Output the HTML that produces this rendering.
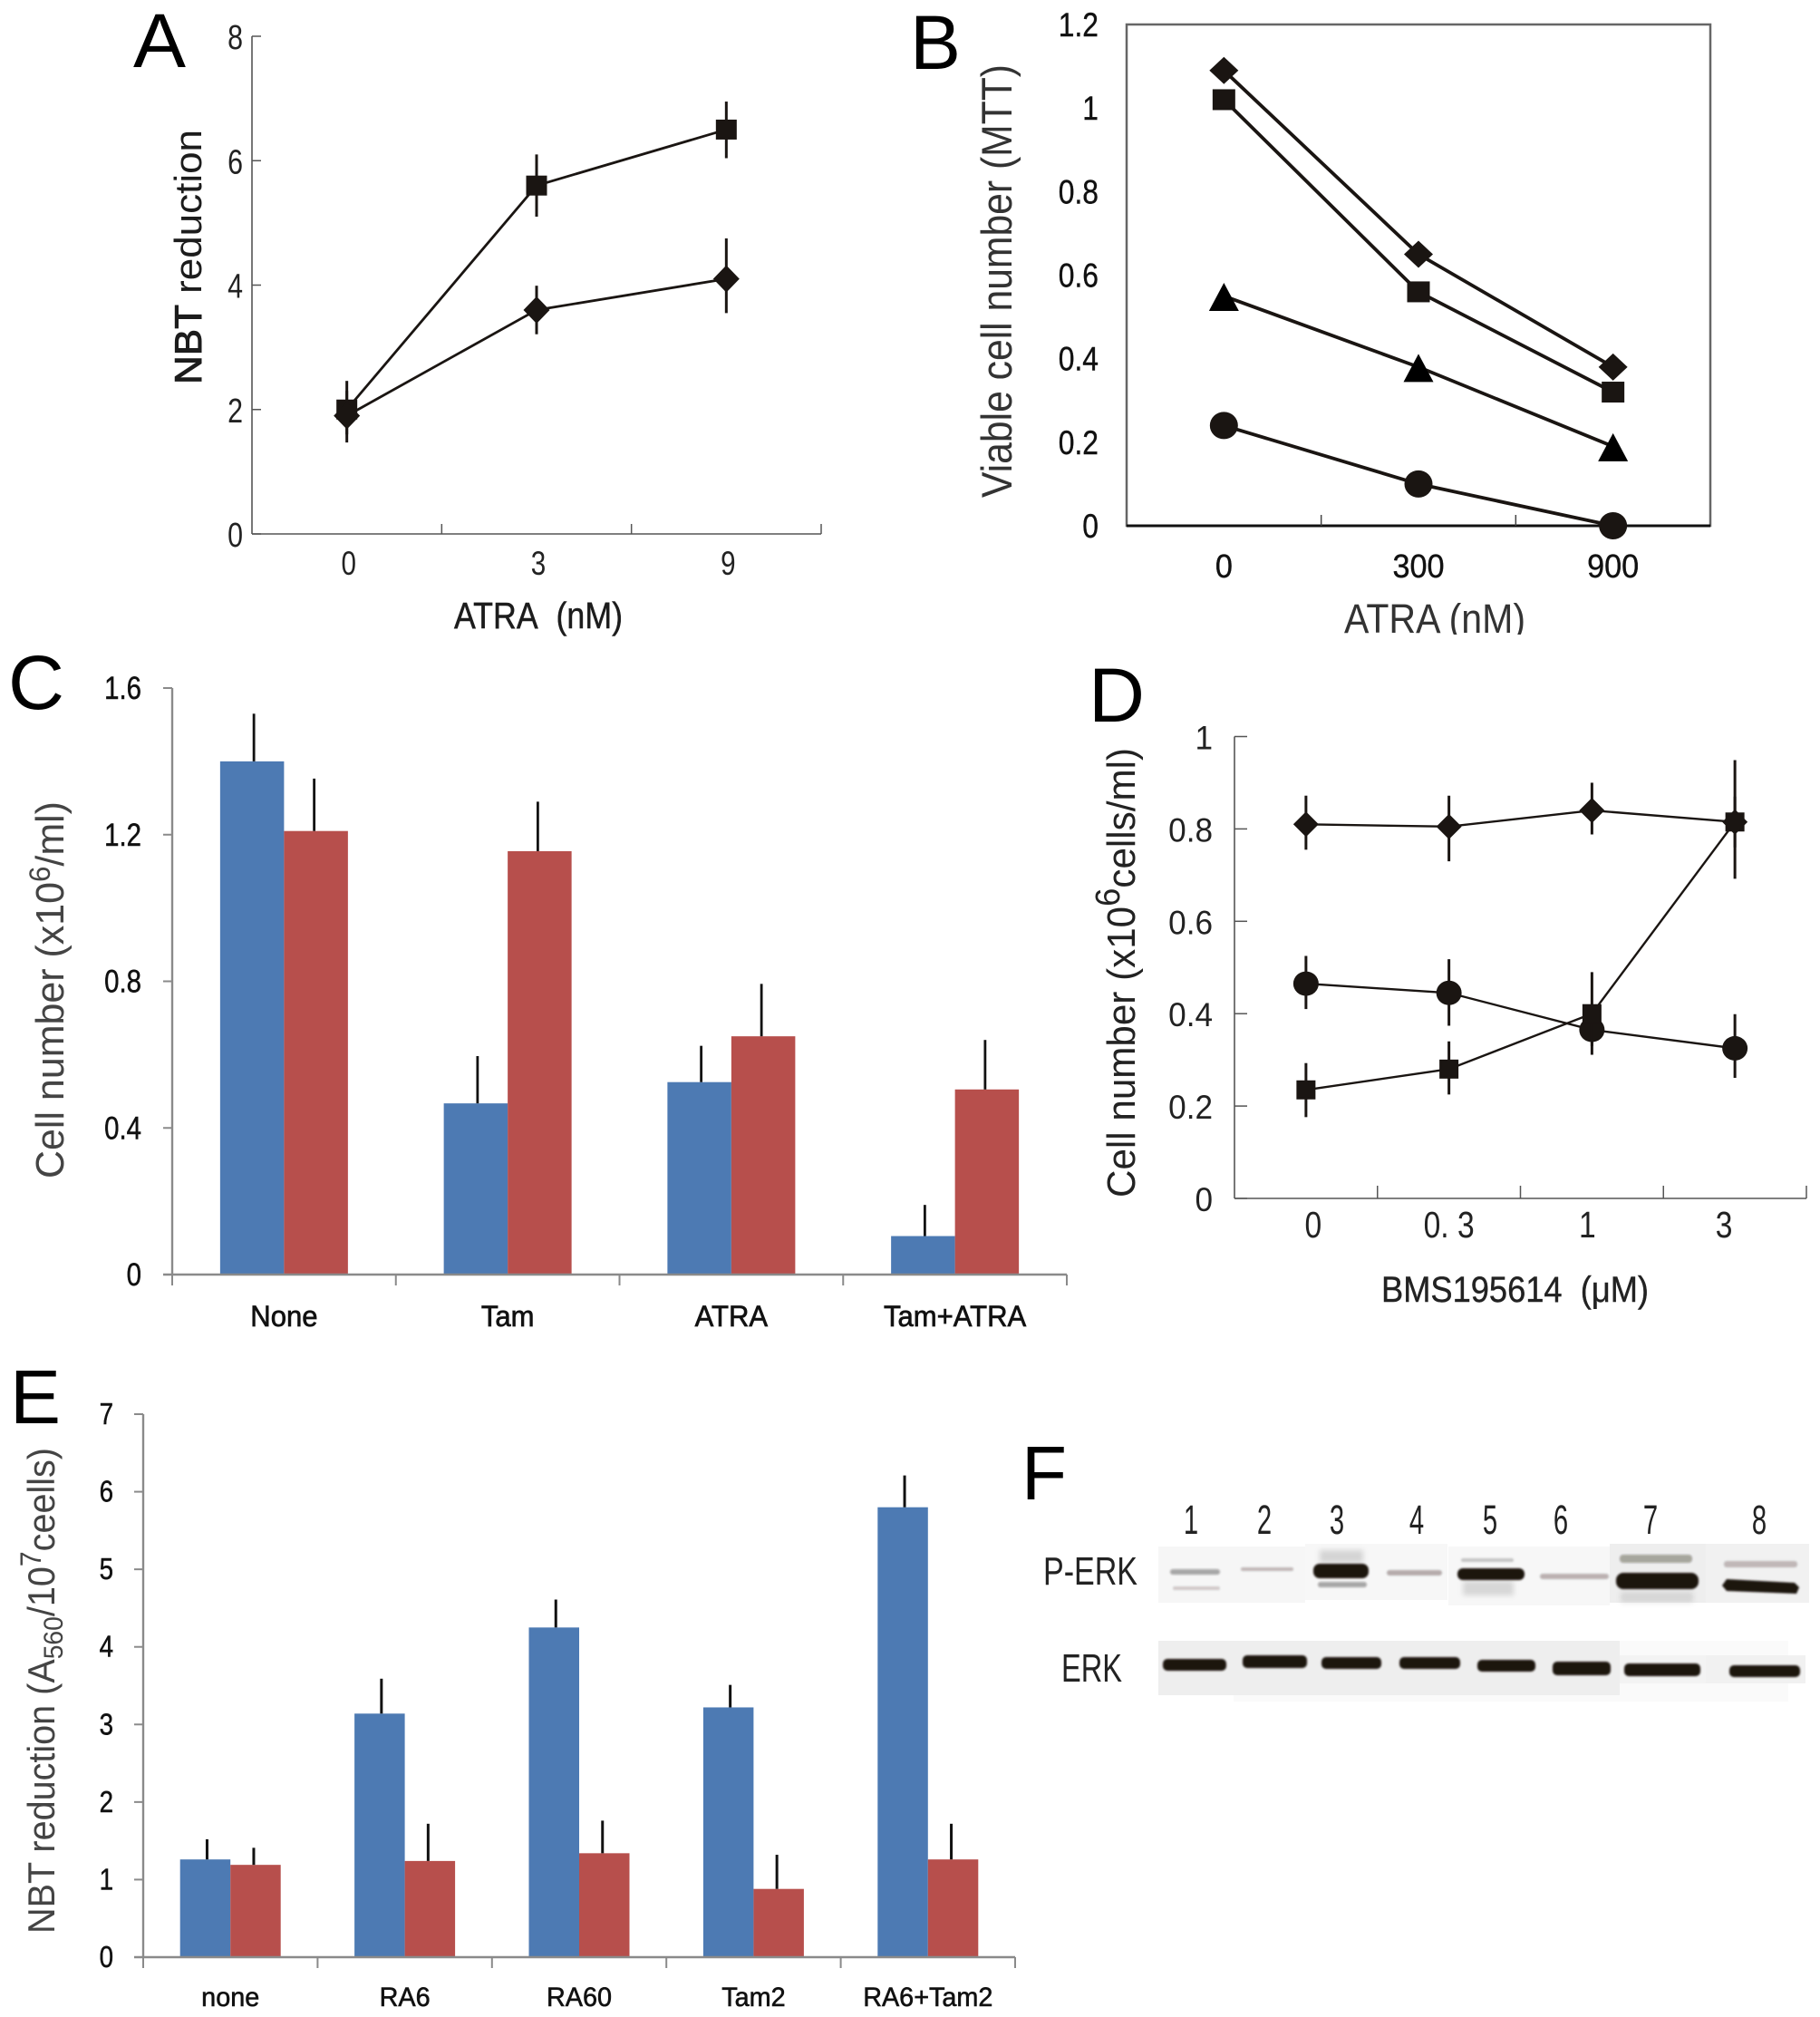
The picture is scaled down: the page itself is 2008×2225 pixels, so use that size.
<!DOCTYPE html>
<html lang="en">
<head>
<meta charset="utf-8">
<title>Multi-panel figure</title>
<style>
html,body{margin:0;padding:0;background:#fff;}
svg{display:block;}
text{font-family:"Liberation Sans","Noto Sans CJK JP",sans-serif;}
</style>
</head>
<body>
<svg id="fig" xmlns="http://www.w3.org/2000/svg" width="2008" height="2225" viewBox="0 0 2008 2225">
<defs>
<filter id="soft" x="-20%" y="-100%" width="140%" height="300%"><feGaussianBlur stdDeviation="1.1"/></filter>
<filter id="softer" x="-20%" y="-100%" width="140%" height="300%"><feGaussianBlur stdDeviation="3"/></filter>
<clipPath id="clip-b-title"><rect x="1400" y="650" width="400" height="50"/></clipPath>
</defs>
<rect width="2008" height="2225" fill="#fff"/>

<!-- panel letters -->
<g fill="#000" font-size="84">
<text x="147" y="74" textLength="58" lengthAdjust="spacingAndGlyphs">A</text>
<text x="1004" y="76" textLength="56" lengthAdjust="spacingAndGlyphs">B</text>
<text x="9" y="782" textLength="62" lengthAdjust="spacingAndGlyphs">C</text>
<text x="1201" y="796" textLength="62" lengthAdjust="spacingAndGlyphs">D</text>
<text x="11" y="1570" textLength="56" lengthAdjust="spacingAndGlyphs">E</text>
<text x="1127" y="1654" textLength="50" lengthAdjust="spacingAndGlyphs">F</text>
</g>

<!-- axis titles -->
<text transform="translate(222,424) rotate(-90)" font-size="42" fill="#1c1c1c" textLength="281" lengthAdjust="spacingAndGlyphs"><tspan stroke="#1c1c1c" stroke-width="1">NBT</tspan>&#160;reduction</text>
<text x="501" y="693" font-size="41" fill="#1c1c1c" stroke="#1c1c1c" stroke-width=".5" textLength="186" lengthAdjust="spacingAndGlyphs">ATRA&#160;&#160;(nM)</text>

<text transform="translate(1116,549) rotate(-90)" font-size="47" fill="#333" textLength="478" lengthAdjust="spacingAndGlyphs">Viable cell number (MTT)</text>
<g clip-path="url(#clip-b-title)"><text x="1483" y="698" font-size="45" fill="#333" textLength="200" lengthAdjust="spacingAndGlyphs">ATRA (nM)</text></g>

<text transform="translate(70,1300) rotate(-90)" font-size="44" fill="#444" textLength="416" lengthAdjust="spacingAndGlyphs">Cell number (x10<tspan font-size="32" dy="-15">6</tspan><tspan dy="15">/ml)</tspan></text>

<text transform="translate(1252,1321) rotate(-90)" font-size="44" fill="#222" textLength="496" lengthAdjust="spacingAndGlyphs">Cell number (x10<tspan font-size="38" dy="-17">6</tspan><tspan dy="17">cells/ml)</tspan></text>
<text x="1524" y="1436" font-size="40" fill="#222" stroke="#222" stroke-width=".4" textLength="295" lengthAdjust="spacingAndGlyphs">BMS195614&#160;&#160;(μM)</text>

<text transform="translate(60,2133) rotate(-90)" font-size="42" fill="#444" textLength="536" lengthAdjust="spacingAndGlyphs">NBT reduction (A<tspan font-size="30" dy="9">560</tspan><tspan dy="-9">/10</tspan><tspan font-size="32" dy="-15">7</tspan><tspan dy="15">ceells)</tspan></text>

<!-- panel F blot -->
<g>
<g>
<rect x="1278" y="1706" width="162" height="62" fill="#f6f6f6"/>
<rect x="1440" y="1703" width="157" height="62" fill="#f7f7f7"/>
<rect x="1598" y="1706" width="178" height="65" fill="#f7f7f7"/>
<rect x="1776" y="1703" width="106" height="65" fill="#eeeeee"/>
<rect x="1882" y="1703" width="114" height="65" fill="#f1f1f1"/>
<rect x="1361" y="1810" width="612" height="67" fill="#fafafa"/>
<rect x="1278" y="1810" width="509" height="60" fill="#eeeeee"/>
<rect x="1882" y="1826" width="110" height="31" fill="#f1f1f1"/>
<rect x="1787" y="1826" width="95" height="31" fill="#f3f3f3"/>
</g>
<g fill="#1a1210" filter="url(#soft)">
<rect x="1291" y="1731" width="55" height="6" rx="3" opacity=".36"/>
<rect x="1294" y="1750" width="52" height="4" rx="2" opacity=".18"/>
<rect x="1369" y="1729" width="58" height="4" rx="2" opacity=".25"/>
<rect x="1449" y="1725" width="61" height="16" rx="7"/>
<rect x="1454" y="1745" width="54" height="6" rx="3" opacity=".36"/>
<rect x="1530" y="1732" width="61" height="6" rx="3" opacity=".3"/>
<rect x="1608" y="1730" width="74" height="13" rx="6"/>
<rect x="1612" y="1719" width="58" height="4" rx="2" opacity=".2"/>
<rect x="1699" y="1736" width="76" height="6" rx="3" opacity=".28"/>
<rect x="1783" y="1735" width="91" height="18" rx="8"/>
<rect x="1787" y="1715" width="80" height="9" rx="4" opacity=".34"/>
<polygon points="1905,1742 1980,1746 1985,1751 1982,1758 1905,1755 1900,1749"/>
<rect x="1902" y="1722" width="81" height="7" rx="3" opacity=".24"/>
</g>
<g fill="#1a1210" filter="url(#softer)">
<rect x="1456" y="1710" width="48" height="14" opacity=".14"/>
<rect x="1614" y="1744" width="56" height="16" opacity=".13"/>
<rect x="1788" y="1756" width="80" height="12" opacity=".1"/>
</g>
<g fill="#1a1210" filter="url(#soft)">
<rect x="1283" y="1830" width="70" height="13" rx="5"/>
<rect x="1371" y="1826" width="71" height="14" rx="5"/>
<rect x="1458" y="1828" width="66" height="13" rx="5"/>
<rect x="1544" y="1828" width="67" height="13" rx="5"/>
<rect x="1630" y="1831" width="64" height="13" rx="5"/>
<rect x="1713" y="1833" width="64" height="15" rx="5"/>
<rect x="1792" y="1835" width="84" height="14" rx="5"/>
<rect x="1908" y="1837" width="78" height="13" rx="5"/>
</g>
<g font-size="45" fill="#222" text-anchor="middle">
<text transform="translate(1314,1692) scale(.65,1)">1</text>
<text transform="translate(1395,1692) scale(.65,1)">2</text>
<text transform="translate(1475,1692) scale(.65,1)">3</text>
<text transform="translate(1563,1692) scale(.65,1)">4</text>
<text transform="translate(1644,1692) scale(.65,1)">5</text>
<text transform="translate(1722,1692) scale(.65,1)">6</text>
<text transform="translate(1821,1692) scale(.65,1)">7</text>
<text transform="translate(1941,1692) scale(.65,1)">8</text>
</g>
<text x="1151" y="1748" font-size="44" fill="#222" textLength="104" lengthAdjust="spacingAndGlyphs">P-ERK</text>
<text x="1171" y="1855" font-size="44" fill="#222" textLength="67" lengthAdjust="spacingAndGlyphs">ERK</text>
</g>

<g id="plots"></g>
</svg>

<script>
// Panel A
const aCategories = ['0', '3', '9'];
const aYTicks = [0, 2, 4, 6, 8];
const aSquare = [2.0, 5.6, 6.5];
const aSquareHigh = [2.46, 6.1, 6.95];
const aSquareLow = [1.6, 5.1, 6.04];
const aDiamond = [1.9, 3.6, 4.1];
const aDiamondHigh = [2.3, 3.99, 4.75];
const aDiamondLow = [1.47, 3.21, 3.55];

// Panel B
const bCategories = ['0', '300', '900'];
const bYTicks = ['0', '0.2', '0.4', '0.6', '0.8', '1', '1.2'];
const bDiamond = [1.09, 0.65, 0.38];
const bSquare = [1.02, 0.56, 0.32];
const bTriangle = [0.55, 0.38, 0.19];
const bCircle = [0.24, 0.10, 0.0];

// Panel C
const cCategories = ['None', 'Tam', 'ATRA', 'Tam+ATRA'];
const cYTicks = ['0', '0.4', '0.8', '1.2', '1.6'];
const cBlue = [1.40, 0.467, 0.525, 0.105];
const cRed = [1.21, 1.155, 0.65, 0.505];
const cBlueErr = [1.53, 0.596, 0.624, 0.19];
const cRedErr = [1.353, 1.29, 0.793, 0.64];

// Panel D
const dCategories = ['0', '0. 3', '1', '3'];
const dYTicks = ['0', '0.2', '0.4', '0.6', '0.8', '1'];
const dDiamond = [0.81, 0.805, 0.84, 0.815];
const dDiamondHigh = [0.872, 0.872, 0.90, 0.949];
const dDiamondLow = [0.755, 0.73, 0.788, 0.692];
const dCircle = [0.465, 0.445, 0.365, 0.325];
const dCircleHigh = [0.525, 0.518, 0.42, 0.399];
const dCircleLow = [0.41, 0.374, 0.311, 0.261];
const dSquare = [0.235, 0.28, 0.40, 0.815];
const dSquareHigh = [0.293, 0.34, 0.49, 0.87];
const dSquareLow = [0.176, 0.225, 0.33, 0.76];

// Panel E
const eCategories = ['none', 'RA6', 'RA60', 'Tam2', 'RA6+Tam2'];
const eYTicks = ['0', '1', '2', '3', '4', '5', '6', '7'];
const eBlue = [1.26, 3.14, 4.25, 3.22, 5.80];
const eRed = [1.19, 1.24, 1.34, 0.88, 1.26];
const eBlueErr = [1.52, 3.59, 4.61, 3.51, 6.21];
const eRedErr = [1.41, 1.72, 1.76, 1.32, 1.72];

const NS = 'http://www.w3.org/2000/svg';
const root = document.getElementById('plots');
const BLUE = '#4d7ab3';
const RED = '#b74f4c';
const INK = '#1a1512';

function make(tag, attrs, name, parent) {
  const el = document.createElementNS(NS, tag);
  for (const k in attrs) el.setAttribute(k, attrs[k]);
  
  
  (parent || root).appendChild(el);
  return el;
}
function line(x1, y1, x2, y2, stroke, w, name) {
  return make('line', {x1: x1, y1: y1, x2: x2, y2: y2, stroke: stroke, 'stroke-width': w}, name);
}
function label(x, y, str, size, sx, anchor, fill, name, bold) {
  const t = make('text', {transform: 'translate(' + x + ',' + y + ') scale(' + sx + ',1)', 'font-size': size, fill: fill, 'text-anchor': anchor}, name);
  if (bold) {
    t.setAttribute('stroke', fill);
    t.setAttribute('stroke-width', bold);
  }
  t.textContent = str;
  return t;
}
function marker(kind, x, y, w, h, name) {
  if (kind === 'square') make('rect', {x: x - w / 2, y: y - h / 2, width: w, height: h, fill: INK}, name);
  if (kind === 'diamond') make('polygon', {points: [x, y - h / 2, x + w / 2, y, x, y + h / 2, x - w / 2, y].join(','), fill: INK}, name);
  if (kind === 'circle') make('ellipse', {cx: x, cy: y, rx: w / 2, ry: h / 2, fill: INK}, name);
  if (kind === 'triangle') make('polygon', {points: [x, y - h * 0.47, x + w / 2, y + h * 0.53, x - w / 2, y + h * 0.53].join(','), fill: '#000'}, name);
}
function series(prefix, vals, sx, sy, kind, w, h, lw, high, low) {
  const pts = vals.map(function (v, i) { return sx(i) + ',' + sy(v); }).join(' ');
  make('polyline', {points: pts, fill: 'none', stroke: INK, 'stroke-width': lw}, prefix + '-line');
  vals.forEach(function (v, i) {
    if (high) line(sx(i), sy(high[i]), sx(i), sy(low[i]), INK, 3, prefix + '-error-bar-' + i);
  });
  vals.forEach(function (v, i) {
    marker(kind, sx(i), sy(v), w, h, prefix + '-point-' + i);
  });
}
function bars(prefix, vals, errs, sx, sy, bw, side, color, ew) {
  vals.forEach(function (v, i) {
    const x = sx(i) + (side < 0 ? -bw : 0);
    make('rect', {x: x, y: sy(v), width: bw, height: sy(0) - sy(v), fill: color}, prefix + '-bar-' + i);
  });
  errs.forEach(function (v, i) {
    const x = sx(i) + side * bw / 2 - side * 2;
    line(x, sy(v), x, sy(vals[i]), '#111', ew, prefix + '-error-' + i);
  });
}

// ---- Panel A
(function () {
  const x0 = 278, xR = 906, y0 = 589, yT = 40, max = 8;
  const band = (xR - x0) / aCategories.length;
  const sx = function (i) { return x0 + (i + 0.5) * band; };
  const sy = function (v) { return y0 - v * (y0 - yT) / max; };
  line(x0, yT, x0, y0, '#555', 1.6, 'a-y-axis');
  line(x0, y0, xR, y0, '#555', 1.6, 'a-x-axis');
  aYTicks.forEach(function (t) {
    line(x0, sy(t), x0 + 10, sy(t), '#555', 1.5, 'a-y-tick');
    label(268, sy(t) + 14, String(t), 38, 0.8, 'end', '#222', 'a-y-tick-label');
  });
  aCategories.forEach(function (c, i) {
    line(x0 + (i + 1) * band, y0, x0 + (i + 1) * band, y0 - 11, '#555', 1.5, 'a-x-tick');
    label(sx(i) + 2, 634, c, 37, 0.8, 'middle', '#222', 'a-x-tick-label');
  });
  series('a-square', aSquare, sx, sy, 'square', 23, 22, 2.8, aSquareHigh, aSquareLow);
  series('a-diamond', aDiamond, sx, sy, 'diamond', 29, 30, 2.8, aDiamondHigh, aDiamondLow);
})();

// ---- Panel B
(function () {
  const x0 = 1243, xR = 1887, y0 = 580, yT = 27, max = 1.2;
  const band = (xR - x0) / bCategories.length;
  const sx = function (i) { return x0 + (i + 0.5) * band; };
  const sy = function (v) { return y0 - v * (y0 - yT) / max; };
  make('rect', {x: x0, y: yT, width: xR - x0, height: y0 - yT, fill: 'none', stroke: '#666', 'stroke-width': 2.5}, 'b-plot-frame');
  line(x0, y0, xR, y0, '#111', 3, 'b-x-axis');
  bYTicks.forEach(function (t) {
    label(1212, sy(parseFloat(t)) + 13, t, 37, 0.86, 'end', '#111', 'b-y-tick-label', 0.4);
  });
  bCategories.forEach(function (c, i) {
    if (i < 2) line(x0 + (i + 1) * band, y0, x0 + (i + 1) * band, y0 - 12, '#444', 1.5, 'b-x-tick');
    label(sx(i), 637, c, 36, 0.95, 'middle', '#111', 'b-x-tick-label', 0.4);
  });
  series('b-diamond', bDiamond, sx, sy, 'diamond', 32, 30, 3.8);
  series('b-square', bSquare, sx, sy, 'square', 25, 23, 3.8);
  series('b-triangle', bTriangle, sx, sy, 'triangle', 33, 31, 3.8);
  series('b-circle', bCircle, sx, sy, 'circle', 31, 30, 3.8);
})();

// ---- Panel C
(function () {
  const x0 = 190, xR = 1177, y0 = 1406, yT = 759, max = 1.6;
  const band = (xR - x0) / cCategories.length;
  const sx = function (i) { return x0 + (i + 0.5) * band; };
  const sy = function (v) { return y0 - v * (y0 - yT) / max; };
  bars('c-blue', cBlue, cBlueErr, sx, sy, 70.5, -1, BLUE, 2.8);
  bars('c-red', cRed, cRedErr, sx, sy, 70.5, 1, RED, 2.8);
  line(x0, yT, x0, y0, '#8a8a8a', 2.4, 'c-y-axis');
  line(x0 - 10, y0, xR, y0, '#8a8a8a', 2.4, 'c-x-axis');
  cYTicks.forEach(function (t) {
    const y = sy(parseFloat(t));
    line(x0 - 10, y, x0, y, '#8a8a8a', 2, 'c-y-tick');
    label(156, y + 12, t, 35, 0.84, 'end', '#111', 'c-y-tick-label', 0.5);
  });
  cCategories.forEach(function (c, i) {
    line(x0 + i * band, y0, x0 + i * band, y0 + 12, '#8a8a8a', 2, 'c-x-tick');
    label(sx(i), 1463, c, 32, 0.97, 'middle', '#111', 'c-x-tick-label', 0.7);
  });
  line(xR, y0, xR, y0 + 12, '#8a8a8a', 2, 'c-x-tick');
})();

// ---- Panel D
(function () {
  const x0 = 1362, xR = 1993, y0 = 1322, yT = 812.5, max = 1;
  const band = (xR - x0) / dCategories.length;
  const sx = function (i) { return x0 + (i + 0.5) * band; };
  const sy = function (v) { return y0 - v * (y0 - yT) / max; };
  line(x0, yT, x0, y0, '#555', 1.6, 'd-y-axis');
  line(x0, y0, xR, y0, '#555', 1.6, 'd-x-axis');
  dYTicks.forEach(function (t) {
    const y = sy(parseFloat(t));
    line(x0, y, x0 + 14, y, '#555', 1.5, 'd-y-tick');
    label(1338, y + 14, t, 37, 0.95, 'end', '#222', 'd-y-tick-label');
  });
  dCategories.forEach(function (c, i) {
    line(x0 + (i + 1) * band, y0, x0 + (i + 1) * band, y0 - 14, '#555', 1.5, 'd-x-tick');
    label(sx(i) + (i === 0 ? 8 : i === 2 ? -5 : i === 3 ? -12 : 0), 1365, c, 41, 0.82, 'middle', '#222', 'd-x-tick-label');
  });
  series('d-circle', dCircle, sx, sy, 'circle', 28, 27, 2.4, dCircleHigh, dCircleLow);
  series('d-square', dSquare, sx, sy, 'square', 21, 21, 2.4, dSquareHigh, dSquareLow);
  series('d-diamond', dDiamond, sx, sy, 'diamond', 28, 28, 2.4, dDiamondHigh, dDiamondLow);
})();

// ---- Panel E
(function () {
  const x0 = 158, xR = 1120, y0 = 2159, yT = 1560, max = 7;
  const band = (xR - x0) / eCategories.length;
  const sx = function (i) { return x0 + (i + 0.5) * band; };
  const sy = function (v) { return y0 - v * (y0 - yT) / max; };
  bars('e-blue', eBlue, eBlueErr, sx, sy, 55.5, -1, BLUE, 3);
  bars('e-red', eRed, eRedErr, sx, sy, 55.5, 1, RED, 3);
  line(x0, yT, x0, y0, '#8a8a8a', 2.4, 'e-y-axis');
  line(x0 - 10, y0, xR, y0, '#8a8a8a', 2.4, 'e-x-axis');
  eYTicks.forEach(function (t) {
    const y = sy(parseFloat(t));
    line(x0 - 10, y, x0, y, '#8a8a8a', 2, 'e-y-tick');
    label(125, y + 11, t, 33, 0.84, 'end', '#111', 'e-y-tick-label', 0.5);
  });
  eCategories.forEach(function (c, i) {
    line(x0 + i * band, y0, x0 + i * band, y0 + 12, '#8a8a8a', 2, 'e-x-tick');
    label(sx(i), 2213, c, 30, 0.96, 'middle', '#111', 'e-x-tick-label', 0.6);
  });
  line(xR, y0, xR, y0 + 12, '#8a8a8a', 2, 'e-x-tick');
})();
</script>
</body>
</html>
